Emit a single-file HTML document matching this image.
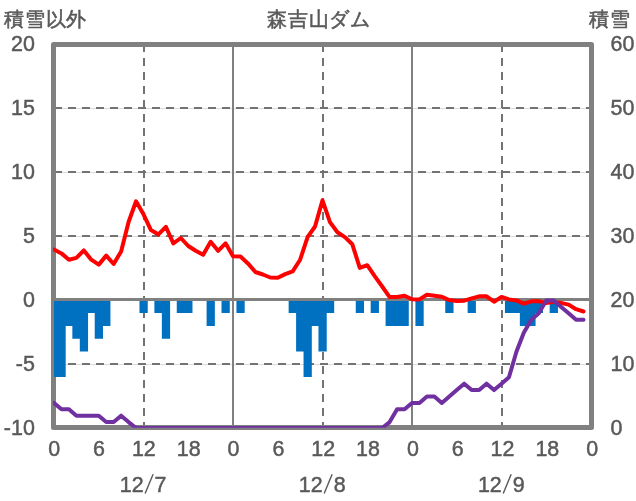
<!DOCTYPE html>
<html><head><meta charset="utf-8"><style>
html,body{margin:0;padding:0;background:#fff;}
body{width:636px;height:501px;position:relative;overflow:hidden;font-family:"Liberation Sans",sans-serif;color:#595959;}
svg{position:absolute;left:0;top:0;will-change:transform;font-family:"Liberation Sans",sans-serif;}
.t{position:absolute;font-size:22.5px;line-height:25px;white-space:nowrap;transform:scaleX(0.94);will-change:transform;}
.yl{left:0;width:34.5px;text-align:right;transform-origin:100% 50%;}
.yr{left:611px;text-align:left;transform-origin:0 50%;}
.xl{top:435px;width:60px;text-align:center;}
.dl{top:471px;width:80px;text-align:center;}
.h{position:absolute;font-size:20px;line-height:24px;white-space:nowrap;top:7px;letter-spacing:0.8px;-webkit-text-stroke:0.55px #595959;will-change:transform;}
</style></head><body>
<svg width="636" height="501" viewBox="0 0 636 501">
<line x1="54.0" y1="108.5" x2="591.0" y2="108.5" stroke="#d9d9d9" stroke-width="1"/>
<line x1="54.0" y1="108" x2="591.0" y2="108" stroke="#737373" stroke-width="2" stroke-dasharray="8 6"/>
<line x1="54.0" y1="172.5" x2="591.0" y2="172.5" stroke="#d9d9d9" stroke-width="1"/>
<line x1="54.0" y1="172" x2="591.0" y2="172" stroke="#737373" stroke-width="2" stroke-dasharray="8 6"/>
<line x1="54.0" y1="236.5" x2="591.0" y2="236.5" stroke="#d9d9d9" stroke-width="1"/>
<line x1="54.0" y1="236" x2="591.0" y2="236" stroke="#737373" stroke-width="2" stroke-dasharray="8 6"/>
<line x1="54.0" y1="364.5" x2="591.0" y2="364.5" stroke="#d9d9d9" stroke-width="1"/>
<line x1="54.0" y1="364" x2="591.0" y2="364" stroke="#737373" stroke-width="2" stroke-dasharray="8 6"/>
<line x1="144" y1="44" x2="144" y2="428.0" stroke="#737373" stroke-width="2" stroke-dasharray="8 6"/>
<line x1="323" y1="44" x2="323" y2="428.0" stroke="#737373" stroke-width="2" stroke-dasharray="8 6"/>
<line x1="502" y1="44" x2="502" y2="428.0" stroke="#737373" stroke-width="2" stroke-dasharray="8 6"/>
<rect x="53.5" y="44.5" width="538" height="383" fill="none" stroke="#808080" stroke-width="5" stroke-linejoin="round"/>
<path d="M54.00 300.00H58.23V377.10H54.00ZM57.43 300.00H65.69V377.10H57.43ZM64.89 300.00H73.15V325.90H64.89ZM72.35 300.00H80.60V338.70H72.35ZM79.80 300.00H88.06V351.50H79.80ZM87.26 300.00H95.52V313.10H87.26ZM94.72 300.00H102.98V338.70H94.72ZM102.18 300.00H110.44V325.90H102.18ZM139.47 300.00H147.73V313.10H139.47ZM154.39 300.00H162.65V313.10H154.39ZM161.85 300.00H170.10V338.70H161.85ZM176.76 300.00H185.02V313.10H176.76ZM184.22 300.00H192.48V313.10H184.22ZM206.60 300.00H214.85V325.90H206.60ZM221.51 300.00H229.77V313.10H221.51ZM236.43 300.00H244.69V313.10H236.43ZM288.64 300.00H296.90V313.10H288.64ZM296.10 300.00H304.35V351.50H296.10ZM303.55 300.00H311.81V377.10H303.55ZM311.01 300.00H319.27V325.90H311.01ZM318.47 300.00H326.73V351.50H318.47ZM325.93 300.00H334.19V313.10H325.93ZM355.76 300.00H364.02V313.10H355.76ZM370.68 300.00H378.94V313.10H370.68ZM385.60 300.00H393.85V325.90H385.60ZM393.05 300.00H401.31V325.90H393.05ZM400.51 300.00H408.77V325.90H400.51ZM415.43 300.00H423.69V325.90H415.43ZM445.26 300.00H453.52V313.10H445.26ZM467.64 300.00H475.90V313.10H467.64ZM504.93 300.00H513.19V313.10H504.93ZM512.39 300.00H520.65V313.10H512.39ZM519.85 300.00H528.10V325.90H519.85ZM527.30 300.00H535.56V325.90H527.30ZM534.76 300.00H543.02V313.10H534.76ZM549.68 300.00H557.94V313.10H549.68Z" fill="#0070C0"/>
<line x1="233" y1="44.0" x2="233" y2="428.0" stroke="#808080" stroke-width="2"/>
<line x1="412" y1="44.0" x2="412" y2="428.0" stroke="#808080" stroke-width="2"/>
<line x1="54.0" y1="299.5" x2="591.0" y2="299.5" stroke="#808080" stroke-width="3"/>
<defs><clipPath id="pc"><rect x="53" y="44" width="539" height="383.7"/></clipPath></defs><g clip-path="url(#pc)">
<polyline points="54.00,249.50 61.46,253.40 68.92,259.70 76.38,257.90 83.83,250.40 91.29,259.70 98.75,264.60 106.21,255.60 113.67,264.00 121.12,251.40 128.58,222.00 136.04,201.30 143.50,214.30 150.96,230.10 158.42,234.40 165.88,226.80 173.33,243.40 180.79,238.00 188.25,246.00 195.71,250.80 203.17,254.80 210.62,241.80 218.08,250.80 225.54,243.30 233.00,256.20 240.46,256.60 247.92,263.40 255.38,272.00 262.83,274.50 270.29,277.50 277.75,277.80 285.21,274.10 292.67,271.40 300.12,259.70 307.58,237.20 315.04,226.50 322.50,200.40 329.96,222.10 337.42,232.30 344.88,237.10 352.33,244.30 359.79,267.90 367.25,265.20 374.71,276.20 382.17,286.50 389.62,297.10 397.08,297.00 404.54,295.70 412.00,299.20 419.46,299.40 426.92,294.70 434.38,295.70 441.83,296.70 449.29,300.10 456.75,300.90 464.21,300.70 471.67,298.40 479.12,296.30 486.58,296.30 494.04,301.70 501.50,296.90 508.96,299.40 516.42,300.40 523.88,303.70 531.33,301.30 538.79,301.30 546.25,303.10 553.71,301.90 561.17,303.00 568.62,304.60 576.08,309.20 583.54,311.50" fill="none" stroke="#FF0000" stroke-width="4" stroke-linejoin="round" stroke-linecap="round"/>
<polyline points="54.00,402.90 61.46,409.30 68.92,409.30 76.38,415.70 83.83,415.70 91.29,415.70 98.75,415.70 106.21,422.10 113.67,422.10 121.12,415.70 128.58,422.10 136.04,428.00 143.50,428.00 150.96,428.00 158.42,428.00 165.88,428.00 173.33,428.00 180.79,428.00 188.25,428.00 195.71,428.00 203.17,428.00 210.62,428.00 218.08,428.00 225.54,428.00 233.00,428.00 240.46,428.00 247.92,428.00 255.38,428.00 262.83,428.00 270.29,428.00 277.75,428.00 285.21,428.00 292.67,428.00 300.12,428.00 307.58,428.00 315.04,428.00 322.50,428.00 329.96,428.00 337.42,428.00 344.88,428.00 352.33,428.00 359.79,428.00 367.25,428.00 374.71,428.00 382.17,428.00 389.62,422.10 397.08,409.30 404.54,409.30 412.00,402.90 419.46,402.90 426.92,396.50 434.38,396.50 441.83,402.90 449.29,396.50 456.75,390.10 464.21,383.70 471.67,390.10 479.12,390.10 486.58,383.70 494.04,390.10 501.50,383.70 508.96,377.30 516.42,351.70 523.88,332.50 531.33,319.70 538.79,313.30 546.25,300.50 553.71,300.50 561.17,306.90 568.62,313.30 576.08,319.70 583.54,319.70" fill="none" stroke="#7030A0" stroke-width="4" stroke-linejoin="round" stroke-linecap="round"/>
</g>
<g fill="#595959" stroke="#595959" stroke-width="0.5" font-size="22.8">
<text transform="translate(34.80,51.00) scale(0.94,1)" text-anchor="end">20</text>
<text transform="translate(34.80,115.00) scale(0.94,1)" text-anchor="end">15</text>
<text transform="translate(34.80,179.00) scale(0.94,1)" text-anchor="end">10</text>
<text transform="translate(34.80,243.00) scale(0.94,1)" text-anchor="end">5</text>
<text transform="translate(34.80,307.00) scale(0.94,1)" text-anchor="end">0</text>
<text transform="translate(34.80,371.00) scale(0.94,1)" text-anchor="end">-5</text>
<text transform="translate(34.80,435.00) scale(0.94,1)" text-anchor="end">-10</text>
<text transform="translate(610.50,51.00) scale(0.94,1)" text-anchor="start">60</text>
<text transform="translate(610.50,115.00) scale(0.94,1)" text-anchor="start">50</text>
<text transform="translate(610.50,179.00) scale(0.94,1)" text-anchor="start">40</text>
<text transform="translate(610.50,243.00) scale(0.94,1)" text-anchor="start">30</text>
<text transform="translate(610.50,307.00) scale(0.94,1)" text-anchor="start">20</text>
<text transform="translate(610.50,371.00) scale(0.94,1)" text-anchor="start">10</text>
<text transform="translate(610.50,435.00) scale(0.94,1)" text-anchor="start">0</text>
<text transform="translate(54.15,456.00) scale(0.94,1)" text-anchor="middle">0</text>
<text transform="translate(98.99,456.00) scale(0.94,1)" text-anchor="middle">6</text>
<text transform="translate(143.82,456.00) scale(0.94,1)" text-anchor="middle">12</text>
<text transform="translate(188.66,456.00) scale(0.94,1)" text-anchor="middle">18</text>
<text transform="translate(233.50,456.00) scale(0.94,1)" text-anchor="middle">0</text>
<text transform="translate(278.34,456.00) scale(0.94,1)" text-anchor="middle">6</text>
<text transform="translate(323.17,456.00) scale(0.94,1)" text-anchor="middle">12</text>
<text transform="translate(368.01,456.00) scale(0.94,1)" text-anchor="middle">18</text>
<text transform="translate(412.85,456.00) scale(0.94,1)" text-anchor="middle">0</text>
<text transform="translate(457.69,456.00) scale(0.94,1)" text-anchor="middle">6</text>
<text transform="translate(502.52,456.00) scale(0.94,1)" text-anchor="middle">12</text>
<text transform="translate(547.36,456.00) scale(0.94,1)" text-anchor="middle">18</text>
<text transform="translate(592.20,456.00) scale(0.94,1)" text-anchor="middle">0</text>
<text transform="translate(119.80,492.00) scale(0.94,1)" text-anchor="start">12</text>
<text transform="translate(154.60,492.00) scale(0.94,1)" text-anchor="start">7</text>
<line x1="145.10" y1="493.4" x2="153.10" y2="474.2" stroke="#595959" stroke-width="1.4"/>
<text transform="translate(298.85,492.00) scale(0.94,1)" text-anchor="start">12</text>
<text transform="translate(333.65,492.00) scale(0.94,1)" text-anchor="start">8</text>
<line x1="324.15" y1="493.4" x2="332.15" y2="474.2" stroke="#595959" stroke-width="1.4"/>
<text transform="translate(477.90,492.00) scale(0.94,1)" text-anchor="start">12</text>
<text transform="translate(512.70,492.00) scale(0.94,1)" text-anchor="start">9</text>
<line x1="503.20" y1="493.4" x2="511.20" y2="474.2" stroke="#595959" stroke-width="1.4"/>
</g>
</svg>
<div class="h" style="left:4px">積雪以外</div>
<div class="h" style="left:267px">森吉山ダム</div>
<div class="h" style="left:589px">積雪</div>
</body></html>
